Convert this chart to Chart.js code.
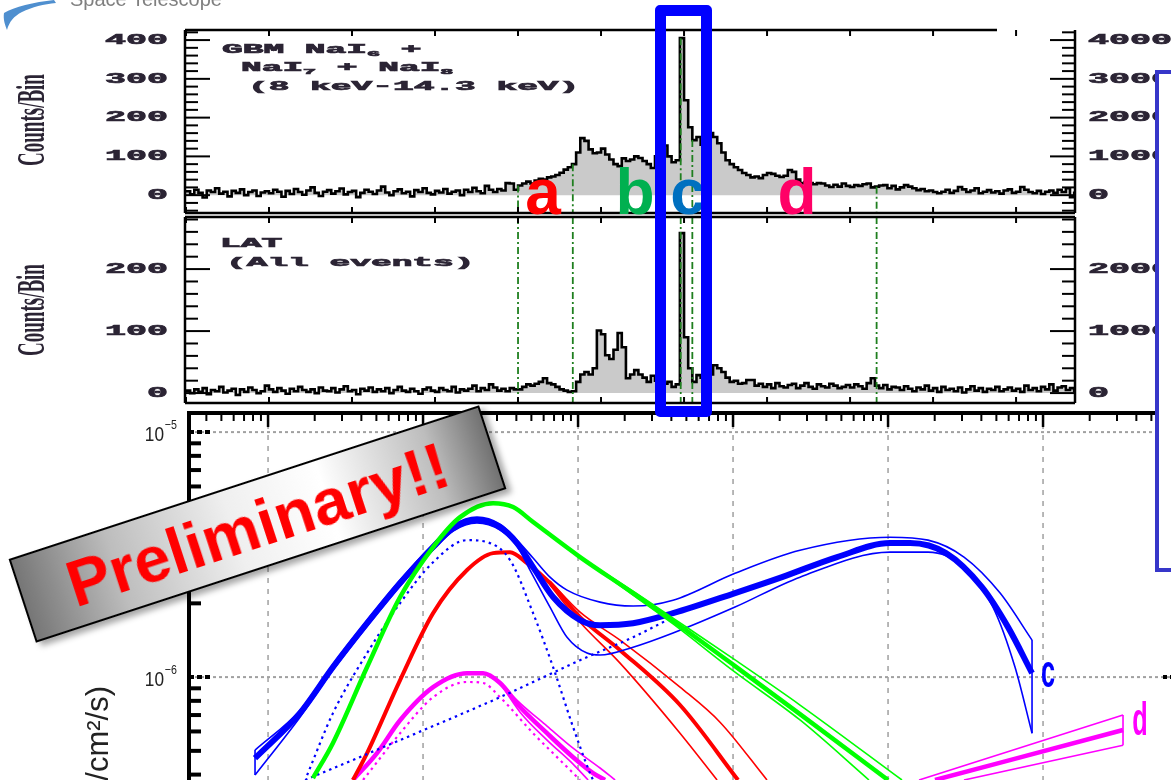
<!DOCTYPE html>
<html>
<head>
<meta charset="utf-8">
<script src="https://cdn.jsdelivr.net/npm/chart.js@4.4.1/dist/chart.umd.min.js"></script>
<style>
  html, body { margin: 0; padding: 0; background: #fff; overflow: hidden; }
  #stage { position: relative; width: 1171px; height: 780px; overflow: hidden; }
  canvas { position: absolute; left: 0; top: 0; }
  #logo { position: absolute; left: 0; top: 0; }
  #logoText { position: absolute; left: 70px; top: -11px; font: 20px/20px "Liberation Sans", Arial, sans-serif; color: #808080; }
  #cbox { position: absolute; left: 655px; top: 5px; width: 57px; height: 412px; box-sizing: border-box;
          border: 11px solid #0000ff; border-radius: 5px; }
  #sidebox { position: absolute; left: 1155px; top: 70px; width: 200px; height: 502px; box-sizing: border-box;
             border: 4px solid #3636c9; background: #fff; }
  #banner { position: absolute; left: 9.5px; top: 480px; width: 495px; height: 88px; box-sizing: border-box;
            transform: rotate(-18.1deg); border: 2px solid #000;
            background: linear-gradient(90deg, #767676 0%, #bdbdbd 20%, #efefef 45%, #ffffff 65%, #bdbdbd 88%, #727272 100%);
            box-shadow: 4px 5px 6px rgba(0,0,0,0.35);
            display: flex; align-items: center; justify-content: center;
            color: #ff0000; font: bold 65px "Liberation Sans", Arial, sans-serif; }
</style>
</head>
<body>
<div id="stage">
  <canvas id="spec" width="1200" height="780"></canvas>
  <canvas id="gbm" width="1171" height="780"></canvas>
  <canvas id="lat" width="1171" height="780"></canvas>
  <svg id="logo" width="60" height="34">
    <path d="M54 0 C 34 2, 14 7, 4 13 C 3 19, 5 25, 7 30 C 9 22, 14 16, 22 12 C 32 7, 44 4, 56 3 Z" fill="#4f8fcf"/>
  </svg>
  <div id="logoText">Space Telescope</div>
  <div id="cbox"></div>
  <div id="sidebox"></div>
  <div id="banner">Preliminary!!</div>
</div>
<script>
// ---- light curves: counts per 0.25 s bin, first bin starts at -20 s ----
const tStart = -20;
const binWidth = 0.25;
const gbmCounts = [
  10, 2, 14, 6, -6, 12, 8, 18, 4, 9, -3, 11, 6, 15, 0, 8, 12, -2, 7, 10,
  5, 14, 9, -4, 11, 3, 16, 8, 1, 12, 20, 6, -2, 9, 13, 4, 10, 17, 2, 8,
  11, -5, 6, 14, 9, 3, 12, 22, 7, 0, 10, 15, 5, 9, -3, 13, 8, 18, 6, 2,
  11, 7, 16, 4, 9, 12, 0, 14, 8, 19, 10, 5, 24, 14, 8, 16, 12, 31, 30, 14,
  25, 30, 35, 30, 38, 42, 40, 46, 48, 52, 58, 66, 72, 80, 110, 147, 140, 118, 108, 110,
  120, 105, 92, 80, 75, 95, 88, 92, 100, 96, 88, 80, 70, 100, 105, 128, 100, 85, 90, 405,
  245, 175, 142, 150, 130, 142, 160, 150, 134, 110, 90, 80, 72, 65, 57, 52, 46, 48, 44, 52,
  57, 55, 50, 47, 50, 65, 60, 40, 31, 34, 31, 28, 31, 30, 25, 21, 27, 22, 30, 24,
  21, 26, 24, 28, 30, 20, 22, 25, 26, 18, 24, 15, 20, 26, 22, 18, 13, 16, 10, 12,
  8, 5, 9, 14, 6, 11, 21, 15, 8, 12, 18, 5, 9, 13, 7, 10, 4, 12, 15, 6,
  9, 21, 14, 8, 5, 11, 3, 9, 12, 6, 14, 8, 18, -5, 6
];
const latCounts = [
  4, 0, 6, 2, 8, -2, 5, 3, 10, 1, 4, 7, -3, 6, 2, 9, 5, 0, 3, 12,
  6, 2, 8, 4, -1, 7, 3, 10, 5, 2, 6, 0, 9, 4, 3, 8, 1, 6, 11, 3,
  5, -2, 7, 4, 9, 2, 6, 3, 8, 0, 5, 10, 4, 2, 7, 3, -1, 6, 9, 4,
  2, 8, 5, 3, 10, 1, 6, 4, 7, 12, 3, 8, 5, 14, 9, 4, 7, 3, 8, 6,
  6, 10, 14, 12, 15, 18, 24, 16, 14, 10, 6, 4, 2, 3, 18, 30, 34, 30, 40, 101,
  95, 61, 55, 70, 97, 74, 24, 30, 37, 30, 25, 18, 28, 20, 13, 15, 18, 10, 14, 258,
  90, 40, 18, 29, 25, 35, 30, 45, 40, 34, 25, 18, 20, 15, 16, 21, 21, 12, 15, 10,
  14, 8, 16, 11, 9, 13, 15, 8, 12, 16, 10, 7, 14, 11, 9, 15, 12, 8, 10, 13,
  9, 14, 11, 7, 16, 24, 12, 8, 13, 6, 10, 9, 5, 11, 7, 3, 9, 6, 12, 4,
  8, 2, 10, 5, 7, 3, 9, 1, 6, 11, 4, 8, 2, 7, 5, 10, 3, 6, 9, 4,
  7, 2, 12, 5, 8, 3, 10, 6, 14, 4, 9, 11, 5, 8, 3
];
const intervalEdges = [0, 3.3, 9.8, 10.5, 21.6];
const intervalNames = ['a', 'b', 'c', 'd'];
const intervalColors = ['#ff0000', '#00b050', '#0070c0', '#ff0066'];
const gbmTicks = [0, 100, 200, 300, 400];
const latTicks = [0, 100, 200];
const timeTicks = [-20, -15, -10, -5, 0, 5, 10, 15, 20, 25, 30];

// ---- spectra: log10(E / keV) and log10(nuFnu / erg cm^-2 s^-1) ----
const cE   = [0.916, 1.206, 1.419, 1.639, 1.852, 2.065, 2.194, 2.348, 2.497, 2.606, 2.710, 2.839, 3.013, 3.142, 3.355, 3.613, 4.013, 4.316, 4.671, 5.013, 5.142, 5.374, 5.606, 5.774, 5.929];
const cF   = [-6.331, -6.147, -5.959, -5.780, -5.616, -5.469, -5.392, -5.359, -5.388, -5.453, -5.551, -5.673, -5.767, -5.788, -5.780, -5.739, -5.657, -5.592, -5.510, -5.453, -5.453, -5.494, -5.633, -5.796, -5.984];
const cHiE = [0.916, 1.206, 1.419, 1.639, 1.852, 2.065, 2.194, 2.348, 2.497, 2.606, 2.710, 2.819, 2.929, 3.142, 3.355, 3.613, 4.013, 4.432, 5.013, 5.258, 5.490, 5.723, 5.929];
const cHiF = [-6.298, -6.135, -5.947, -5.768, -5.604, -5.457, -5.380, -5.347, -5.376, -5.441, -5.514, -5.592, -5.645, -5.694, -5.710, -5.686, -5.576, -5.482, -5.429, -5.441, -5.510, -5.657, -5.849];
const cLoE = [0.916, 1.206, 1.419, 1.639, 1.852, 2.065, 2.194, 2.348, 2.497, 2.606, 2.690, 2.819, 2.929, 3.058, 3.142, 3.355, 3.613, 4.013, 4.432, 5.013, 5.258, 5.490, 5.677, 5.819, 5.929];
const cLoF = [-6.400, -6.164, -5.971, -5.792, -5.628, -5.481, -5.404, -5.371, -5.400, -5.465, -5.563, -5.714, -5.837, -5.902, -5.910, -5.878, -5.820, -5.714, -5.592, -5.490, -5.490, -5.551, -5.714, -5.959, -6.229];
const cBandE = [1.252, 1.419, 1.639, 1.852, 2.065, 2.284, 2.413, 2.561, 2.710, 2.839, 2.968, 3.077, 3.097];
const cBandF = [-6.400, -6.147, -5.902, -5.698, -5.531, -5.441, -5.449, -5.522, -5.739, -5.959, -6.204, -6.392, -6.420];
const cPlE = [1.239, 1.852, 2.497, 3.013, 3.355, 3.613];
const cPlF = [-6.420, -6.257, -6.082, -5.931, -5.837, -5.755];
const cEndE = [5.929, 5.929], cEndF = [-5.849, -6.229];
const cStartE = [0.916, 0.916], cStartF = [-6.298, -6.400];

const bE   = [1.290, 1.419, 1.639, 1.852, 2.065, 2.239, 2.452, 2.581, 2.710, 3.013, 3.355, 3.613, 4.013, 4.432, 5.000];
const bF   = [-6.412, -6.269, -5.959, -5.673, -5.469, -5.347, -5.290, -5.306, -5.367, -5.510, -5.657, -5.771, -5.955, -6.151, -6.420];
const bHiE = [3.013, 3.355, 3.613, 4.013, 4.432, 5.090];
const bHiF = [-5.510, -5.649, -5.759, -5.930, -6.114, -6.420];
const bLoE = [3.013, 3.355, 3.613, 4.013, 4.432, 4.877];
const bLoF = [-5.510, -5.665, -5.783, -5.980, -6.175, -6.420];

const aE   = [1.548, 1.639, 1.852, 2.065, 2.284, 2.452, 2.561, 2.671, 2.819, 3.013, 3.271, 3.658, 4.032];
const aF   = [-6.420, -6.310, -6.012, -5.739, -5.563, -5.494, -5.490, -5.535, -5.616, -5.755, -5.890, -6.114, -6.420];
const aHiE = [2.819, 3.013, 3.271, 3.658, 3.916, 4.219];
const aHiF = [-5.608, -5.735, -5.849, -6.041, -6.184, -6.420];
const aLoE = [2.819, 3.013, 3.271, 3.658, 3.897];
const aLoF = [-5.624, -5.776, -5.943, -6.229, -6.420];

const dE   = [1.548, 1.703, 1.852, 2.065, 2.284, 2.387, 2.497, 2.626, 2.800, 2.968, 3.097, 3.174];
const dF   = [-6.420, -6.310, -6.176, -6.041, -5.984, -5.984, -6.024, -6.122, -6.229, -6.327, -6.392, -6.420];
const dHiE = [2.497, 2.626, 2.800, 2.968, 3.142, 3.239];
const dHiF = [-6.024, -6.106, -6.200, -6.290, -6.371, -6.420];
const dLoE = [2.497, 2.626, 2.800, 2.968, 3.065];
const dLoF = [-6.024, -6.143, -6.257, -6.355, -6.420];
const dDotE = [1.613, 1.852, 2.065, 2.284, 2.387, 2.497, 2.710, 2.929, 3.013];
const dDotF = [-6.420, -6.229, -6.082, -6.020, -6.024, -6.082, -6.229, -6.367, -6.420];
const dPlE = [5.303, 6.516], dPlF = [-6.420, -6.216];
const dPlHiE = [5.200, 6.516], dPlHiF = [-6.420, -6.155];
const dPlLoE = [5.490, 6.516], dPlLoF = [-6.420, -6.278];
const dEndE = [6.516, 6.516], dEndF = [-6.155, -6.278];

const xDecades = [1, 2, 3, 4, 5, 6];
const yDecades = [-5, -6];

const BLUE = '#0000ff', GREEN = '#00ff00', RED = '#ff0000', MAGENTA = '#ff00ff';
const INK = '#2b2434';

const pts = (xs, ys) => xs.map((v, i) => ({ x: v, y: ys[i] }));

function histPoints(counts) {
  const out = counts.map((v, i) => ({ x: tStart + i * binWidth, y: v }));
  out.push({ x: tStart + counts.length * binWidth, y: counts[counts.length - 1] });
  return out;
}

function valueAt(counts, t) {
  const i = Math.floor((t - tStart) / binWidth);
  return counts[Math.max(0, Math.min(counts.length - 1, i))];
}

function line(ctx, x1, y1, x2, y2) {
  ctx.beginPath(); ctx.moveTo(x1, y1); ctx.lineTo(x2, y2); ctx.stroke();
}

// stretched Courier-like text, the figure was squeezed sideways
function wideText(ctx, str, x, y, size, adv, align) {
  const sx = adv / (0.6 * size);
  ctx.save();
  ctx.translate(x, y);
  ctx.scale(sx, 1);
  ctx.font = `bold ${size}px "Liberation Mono", "DejaVu Sans Mono", monospace`;
  ctx.textAlign = align;
  ctx.textBaseline = 'middle';
  ctx.strokeStyle = ctx.fillStyle;
  ctx.lineWidth = 0.7;
  ctx.fillText(str, 0, 0);
  ctx.strokeText(str, 0, 0);
  const w = ctx.measureText(str).width * sx;
  ctx.restore();
  return w;
}

function panelLine(ctx, x, y, segs) {
  let cx = x;
  for (const [str, sub] of segs) {
    if (sub) cx += wideText(ctx, str, cx, y + 4, 8, 13, 'left');
    else cx += wideText(ctx, str, cx, y, 13, 20.7, 'left');
  }
}

function lcDecor(p) {
  return {
    id: 'lc_' + p.name,
    afterDatasetsDraw(chart) {
      const { ctx, chartArea: a, scales: { x, y } } = chart;
      ctx.save();
      // interval boundaries
      ctx.strokeStyle = '#1f7f1f';
      ctx.lineWidth = 1.8;
      ctx.setLineDash([7, 3, 2, 3]);
      for (const t of intervalEdges) {
        const px = x.getPixelForValue(t);
        const top = p.fullMarkers ? a.top : y.getPixelForValue(valueAt(p.counts, t));
        line(ctx, px, top, px, a.bottom);
      }
      ctx.setLineDash([]);
      // frame
      ctx.strokeStyle = '#000';
      ctx.lineWidth = 2.5;
      line(ctx, a.left, a.top, a.left, a.bottom);
      line(ctx, a.right, a.top, a.right, a.bottom);
      line(ctx, a.left, a.top, p.topEnd || a.right, a.top);
      line(ctx, a.left, a.bottom, a.right, a.bottom);
      // count ticks
      ctx.lineWidth = 2;
      for (let v = p.tickMin; v <= p.tickMax; v += 20) {
        const py = y.getPixelForValue(v);
        const len = v % 100 === 0 ? 25 : 13;
        line(ctx, a.left, py, a.left + len, py);
        line(ctx, a.right, py, a.right - len, py);
      }
      // time ticks
      for (const t of timeTicks) {
        const px = x.getPixelForValue(t);
        line(ctx, px, a.top, px, a.top + 6);
        line(ctx, px, a.bottom, px, a.bottom - 6);
      }
      // tick labels
      ctx.fillStyle = INK;
      for (const v of p.labels) {
        const py = y.getPixelForValue(v);
        wideText(ctx, String(v), 168, py, 15, 21, 'right');
        wideText(ctx, String(v * 10), 1088, py, 15, 21, 'left');
      }
      // axis title
      ctx.save();
      ctx.translate(34, p.titleY);
      ctx.scale(2.1, 1);
      ctx.rotate(-Math.PI / 2);
      ctx.font = 'bold 19px "Liberation Serif", "DejaVu Serif", serif';
      ctx.textAlign = 'center';
      ctx.textBaseline = 'middle';
      ctx.fillText('Counts/Bin', 0, 0);
      ctx.restore();
      // panel text
      for (const ln of p.text) panelLine(ctx, ln.x, ln.y, ln.segs);
      // interval letters
      if (p.letters) {
        ctx.font = 'bold 64px "Liberation Sans", Arial, sans-serif';
        ctx.textAlign = 'center';
        ctx.textBaseline = 'alphabetic';
        p.letters.forEach((cx, i) => {
          ctx.fillStyle = intervalColors[i];
          ctx.fillText(intervalNames[i], cx, 214);
        });
      }
      ctx.restore();
    }
  };
}

function lightCurve(id, counts, yMin, yMax, pad, decor) {
  return new Chart(document.getElementById(id), {
    type: 'line',
    data: {
      datasets: [{
        data: histPoints(counts),
        stepped: true,
        borderColor: '#000',
        borderWidth: 2.6,
        pointRadius: 0,
        fill: 'origin',
        backgroundColor: '#cacaca'
      }]
    },
    options: {
      responsive: false,
      animation: false,
      events: [],
      layout: { padding: pad },
      scales: {
        x: { type: 'linear', min: -20.06, max: 33.55, display: false },
        y: { type: 'linear', min: yMin, max: yMax, display: false }
      },
      plugins: { legend: { display: false }, tooltip: { enabled: false } }
    },
    plugins: [decor]
  });
}

function curve(xs, ys, color, width, dash) {
  return {
    data: pts(xs, ys), borderColor: color, borderWidth: width, borderDash: dash || [],
    pointRadius: 0, fill: false, cubicInterpolationMode: 'monotone',
    borderJoinStyle: 'round'
  };
}
function bar(xs, ys, color) {
  return { data: pts(xs, ys), borderColor: color, borderWidth: 1.6, pointRadius: 0, fill: false, tension: 0 };
}

function powerLabel(ctx, exp, xRight, py) {
  ctx.save();
  ctx.translate(xRight, py);
  ctx.scale(0.82, 1);
  ctx.fillStyle = '#222';
  ctx.textBaseline = 'middle';
  ctx.font = '21px "Liberation Sans", Arial, sans-serif';
  ctx.textAlign = 'right';
  ctx.fillText('10', 0, 3);
  ctx.font = '13px "Liberation Sans", Arial, sans-serif';
  ctx.textAlign = 'left';
  ctx.fillText('\u2212' + exp, 1, -7);
  ctx.restore();
}

function tallLetter(ctx, str, x, y, color) {
  ctx.save();
  ctx.translate(x, y);
  ctx.scale(0.55, 1);
  ctx.font = 'bold 46px "Liberation Sans", Arial, sans-serif';
  ctx.fillStyle = color;
  ctx.textAlign = 'center';
  ctx.textBaseline = 'middle';
  ctx.fillText(str, 0, 0);
  ctx.restore();
}

const specDecor = {
  id: 'specDecor',
  beforeDatasetsDraw(chart) {
    const { ctx, chartArea: a, scales: { x, y } } = chart;
    ctx.save();
    ctx.strokeStyle = '#a0a0a0';
    ctx.lineWidth = 2;
    ctx.setLineDash([3, 3]);
    for (const d of yDecades) {
      const py = y.getPixelForValue(d);
      line(ctx, a.left, py, a.right, py);
    }
    ctx.lineWidth = 1.5;
    ctx.setLineDash([5, 6]);
    for (const d of xDecades) {
      const px = x.getPixelForValue(d);
      line(ctx, px, a.top, px, a.bottom);
    }
    ctx.restore();
  },
  afterDatasetsDraw(chart) {
    const { ctx, chartArea: a, scales: { x, y } } = chart;
    ctx.save();
    ctx.strokeStyle = '#000';
    ctx.lineWidth = 4;
    line(ctx, a.left, a.top, a.right, a.top);
    line(ctx, a.left, a.top - 2, a.left, a.bottom);
    // energy ticks along the top
    for (let dec = 0; dec <= 6; dec++) {
      for (let k = 1; k <= 9; k++) {
        const v = dec + Math.log10(k);
        if (v < x.min || v > x.max) continue;
        const px = x.getPixelForValue(v);
        ctx.lineWidth = k === 1 ? 2.5 : 2;
        line(ctx, px, a.top, px, a.top + (k === 1 ? 14 : 8));
      }
    }
    // flux ticks on both sides
    for (let dec = -7; dec <= -5; dec++) {
      for (let k = 1; k <= 9; k++) {
        const v = dec + Math.log10(k);
        if (v < y.min || v > y.max) continue;
        const py = y.getPixelForValue(v);
        ctx.lineWidth = 4;
        if (k === 1) {
          ctx.setLineDash([5, 3]);
          line(ctx, a.left, py, a.left + 22, py);
          line(ctx, a.right, py, a.right - 20, py);
          ctx.setLineDash([]);
        } else {
          line(ctx, a.left, py, a.left + 12, py);
          line(ctx, a.right, py, a.right - 12, py);
        }
      }
    }
    for (const d of yDecades) powerLabel(ctx, String(-d), 164, y.getPixelForValue(d));
    // y axis title (mostly below the visible area)
    ctx.save();
    ctx.translate(99, 686);
    ctx.rotate(-Math.PI / 2);
    ctx.font = '31px "Liberation Sans", Arial, sans-serif';
    ctx.fillStyle = '#222';
    ctx.textAlign = 'right';
    ctx.textBaseline = 'middle';
    ctx.fillText('\u03bdF\u03bd (erg/cm\u00b2/s)', 0, 0);
    ctx.restore();
    tallLetter(ctx, 'c', 1048, 674, BLUE);
    tallLetter(ctx, 'd', 1140, 722, MAGENTA);
    ctx.restore();
  }
};

new Chart(document.getElementById('spec'), {
  type: 'line',
  data: {
    datasets: [
      curve(bE, bF, GREEN, 4.5),
      curve(bHiE, bHiF, GREEN, 1.6),
      curve(bLoE, bLoF, GREEN, 1.6),
      curve(cE, cF, BLUE, 6),
      curve(cHiE, cHiF, BLUE, 1.6),
      curve(cLoE, cLoF, BLUE, 1.6),
      bar(cEndE, cEndF, BLUE),
      bar(cStartE, cStartF, BLUE),
      curve(cBandE, cBandF, BLUE, 2.2, [2.5, 4]),
      curve(cPlE, cPlF, BLUE, 2.2, [2.5, 4]),
      curve(aE, aF, RED, 4),
      curve(aHiE, aHiF, RED, 1.6),
      curve(aLoE, aLoF, RED, 1.6),
      curve(dE, dF, MAGENTA, 4.5),
      curve(dHiE, dHiF, MAGENTA, 1.6),
      curve(dLoE, dLoF, MAGENTA, 1.6),
      curve(dDotE, dDotF, MAGENTA, 2.2, [2.5, 4]),
      curve(dPlE, dPlF, MAGENTA, 4.5),
      curve(dPlHiE, dPlHiF, MAGENTA, 1.6),
      curve(dPlLoE, dPlLoF, MAGENTA, 1.6),
      bar(dEndE, dEndF, MAGENTA)
    ]
  },
  options: {
    responsive: false,
    animation: false,
    events: [],
    layout: { padding: { left: 189, top: 413, right: 17, bottom: 0 } },
    scales: {
      x: { type: 'linear', min: 0.490, max: 6.903, display: false },
      y: { type: 'linear', min: -6.420, max: -4.922, display: false }
    },
    plugins: { legend: { display: false }, tooltip: { enabled: false } }
  },
  plugins: [specDecor]
});

lightCurve('gbm', gbmCounts, -46, 426, { left: 185, top: 30, right: 96, bottom: 567 }, lcDecor({
  name: 'gbm', counts: gbmCounts, fullMarkers: false, topEnd: 997,
  tickMin: -40, tickMax: 420, labels: gbmTicks, titleY: 120,
  text: [
    { x: 222, y: 50, segs: [['GBM NaI'], ['6', true], [' +']] },
    { x: 241, y: 68, segs: [['NaI'], ['7', true], [' + NaI'], ['8', true]] },
    { x: 248, y: 87, segs: [['(8 keV-14.3 keV)']] }
  ],
  letters: [543, 635, 688, 797]
}));

lightCurve('lat', latCounts, -16, 284, { left: 185, top: 217, right: 96, bottom: 377 }, lcDecor({
  name: 'lat', counts: latCounts, fullMarkers: true,
  tickMin: 0, tickMax: 280, labels: latTicks, titleY: 310,
  text: [
    { x: 220, y: 244, segs: [['LAT']] },
    { x: 226, y: 263, segs: [['(All events)']] }
  ]
}));
</script>
</body>
</html>
